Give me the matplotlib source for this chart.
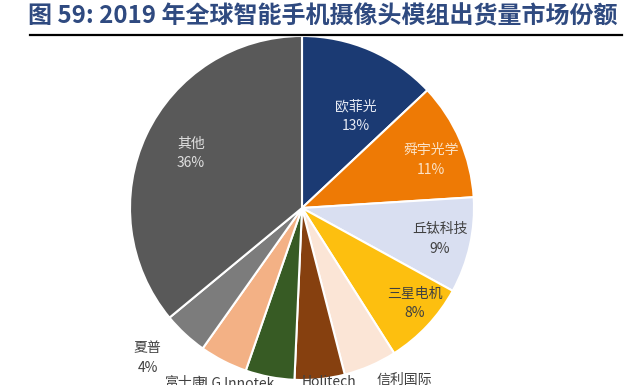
import numpy as np
import matplotlib.pyplot as plt
from matplotlib.lines import Line2D

plt.rcParams['font.family'] = ['Noto Sans CJK SC', 'DejaVu Sans']

# 数据
names = ["欧菲光", "舜宇光学", "丘钛科技", "三星电机", "信利国际",
         "Holitech", "LG Innotek", "富士康", "夏普", "其他"]
shares = [13, 11, 9, 8, 5, 4.7, 4.6, 4.5, 4.2, 36]
pct_labels = ["13%", "11%", "9%", "8%", "5%", "5%", "5%", "5%", "4%", "36%"]
colors = ["#1B3A73", "#EE7A05", "#D9DFF1", "#FDBF0F", "#FBE5D6",
          "#86400F", "#375B24", "#F3B185", "#7C7C7C", "#595959"]
text_colors = ["#E8ECF5", "#FBE3C8", "#404040", "#404040", "#404040",
               "#404040", "#404040", "#404040", "#404040", "#E0E0E0"]
# 标签距离圆心的比例
label_r = [0.62, 0.80, 0.82, 0.86, 1.21, 1.08, 1.14, 1.27, 1.25, 0.72]
label_shift = [7, 3, 0, -3, -6, -2.5, 8, 5, 3, 1]

W, H = 640, 385
fig = plt.figure(figsize=(W / 100, H / 100), dpi=100)

# 标题和下划线
fig.text(28 / W, 1 - 17 / H, "图 59: 2019 年全球智能手机摄像头模组出货量市场份额",
         fontsize=17.3, color="#2F4A80", ha="left", va="center", weight="bold")
fig.add_artist(Line2D([30 / W, 622 / W], [1 - 35 / H, 1 - 35 / H],
                      color="black", lw=1.6))

cx, cy, r = 302, 208, 172
ax = fig.add_axes([(cx - r) / W, (H - cy - r) / H, 2 * r / W, 2 * r / H])
wedges, _ = ax.pie(shares, colors=colors, startangle=90, counterclock=False,
                   wedgeprops=dict(edgecolor="white", linewidth=1.5))
ax.set_xlim(-1, 1)
ax.set_ylim(-1, 1)
ax.set_aspect("equal")
ax.axis("off")

# 标签
cum = np.cumsum([0] + shares[:-1])
for i, w in enumerate(wedges):
    mid = (cum[i] + shares[i] / 2) / 100 * 360 + label_shift[i]
    a = np.deg2rad(90 - mid)
    x, y = label_r[i] * np.cos(a), label_r[i] * np.sin(a)
    ax.text(x, y, names[i] + "\n" + pct_labels[i], ha="center", va="center",
            fontsize=10, color=text_colors[i], linespacing=1.5, clip_on=False)

fig.savefig("out.png", dpi=100)
